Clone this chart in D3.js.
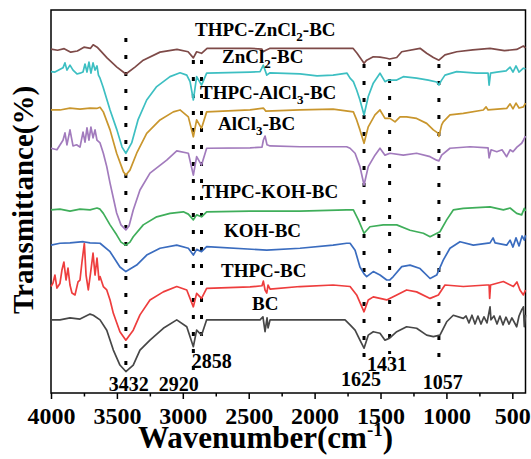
<!DOCTYPE html>
<html>
<head>
<meta charset="utf-8">
<script src="https://cdn.jsdelivr.net/npm/d3@7"></script>
<style>
  body { margin: 0; background: #fff; }
  svg { display: block; font-family: "Liberation Serif", "Times New Roman", serif; font-weight: bold; }
</style>
</head>
<body>
<div id="chart"><svg width="531" height="459"></svg></div>
<script>
// FTIR spectra, [wavenumber (cm-1), transmittance (a.u., stacked)]
const thpcZncl2Bc = [[4000,89.8],[3950,89.5],[3900,89.9],[3850,89.0],[3800,89.3],[3750,90.3],[3700,90.0],[3680,90.9],[3650,90.3],[3620,89.2],[3575,87.5],[3500,85.1],[3432,83.3],[3363,85.1],[3300,86.9],[3173,89.0],[3044,89.7],[2960,89.1],[2920,87.5],[2895,89.1],[2858,88.7],[2816,90.0],[2490,90.0],[2400,89.8],[2391,89.1],[2370,89.5],[2338,90.0],[2111,90.0],[1754,90.0],[1709,90.0],[1678,88.7],[1625,86.1],[1605,86.9],[1555,87.8],[1504,87.7],[1453,87.4],[1431,87.2],[1377,87.6],[1339,89.1],[1200,90.0],[1150,88.7],[1099,87.6],[1057,86.9],[1011,88.3],[922,89.1],[800,89.6],[669,90.0],[560,89.4],[467,89.7],[416,90.6],[400,90.1]];

const zncl2Bc = [[4000,83.9],[3970,83.8],[3909,84.9],[3894,86.2],[3879,84.3],[3856,85.6],[3833,84.3],[3803,83.3],[3780,83.5],[3757,83.8],[3742,85.9],[3727,83.8],[3712,86.4],[3697,83.5],[3681,86.2],[3666,84.3],[3651,85.4],[3640,83.0],[3628,82.2],[3605,79.9],[3552,73.9],[3500,68.7],[3461,64.2],[3432,62.6],[3388,65.3],[3340,71.3],[3274,76.5],[3198,80.0],[3097,82.6],[3021,83.6],[2970,83.0],[2945,81.3],[2920,76.5],[2895,82.6],[2858,80.4],[2819,83.5],[2490,83.8],[2414,83.9],[2389,85.6],[2363,83.0],[2338,83.6],[2111,83.3],[1982,82.8],[1860,83.0],[1754,83.5],[1731,82.2],[1706,81.3],[1681,79.1],[1656,76.5],[1625,72.6],[1593,77.4],[1555,80.9],[1504,83.5],[1466,81.3],[1441,81.7],[1377,81.7],[1327,82.6],[1226,82.2],[1137,81.7],[1074,81.2],[1057,80.4],[1040,81.5],[1011,83.0],[922,83.9],[770,83.5],[684,83.5],[676,80.4],[665,83.5],[618,83.8],[547,84.1],[517,85.1],[495,83.8],[472,85.4],[449,83.8],[416,84.8],[400,84.6]];

const thpcAlcl3Bc = [[4000,73.9],[3932,73.9],[3856,74.4],[3780,74.1],[3704,74.4],[3653,74.3],[3628,74.6],[3603,73.4],[3552,68.7],[3502,62.6],[3451,57.8],[3432,56.9],[3401,58.2],[3350,62.6],[3274,67.8],[3173,71.3],[3072,73.4],[3021,73.9],[2958,72.1],[2920,66.9],[2895,71.3],[2858,69.1],[2819,73.4],[2490,73.9],[2389,74.4],[2370,73.6],[2111,73.9],[1860,74.1],[1706,73.4],[1681,71.3],[1656,68.7],[1625,65.2],[1593,69.5],[1542,72.6],[1504,73.9],[1466,71.7],[1428,71.7],[1390,70.8],[1352,72.1],[1302,72.1],[1226,71.7],[1150,70.4],[1099,68.7],[1061,67.8],[1057,67.0],[1036,70.0],[1024,70.8],[973,72.6],[872,73.0],[720,73.9],[699,74.7],[684,73.9],[543,74.3],[517,75.5],[495,74.2],[472,75.7],[449,74.4],[416,74.7],[400,75.7]];

const alcl3Bc = [[4000,63.9],[3955,63.5],[3909,66.0],[3894,67.9],[3879,64.8],[3856,68.7],[3833,64.5],[3806,64.8],[3780,64.2],[3757,68.1],[3742,65.5],[3727,69.2],[3712,66.0],[3697,69.4],[3681,66.6],[3666,68.7],[3651,66.0],[3628,65.3],[3603,62.6],[3577,59.1],[3552,54.8],[3502,47.0],[3469,43.9],[3432,42.6],[3408,43.6],[3376,47.8],[3325,53.0],[3249,57.4],[3122,60.8],[3046,63.2],[2958,62.6],[2920,56.9],[2895,61.7],[2858,59.5],[2819,63.9],[2490,64.0],[2399,64.2],[2389,66.0],[2376,67.1],[2361,64.8],[2338,64.5],[2111,64.3],[1757,64.3],[1731,63.9],[1693,62.6],[1656,59.1],[1625,54.3],[1593,59.1],[1542,62.1],[1504,63.9],[1466,62.1],[1428,62.6],[1327,62.1],[1226,62.6],[1124,61.7],[1074,60.8],[1057,60.6],[1036,62.1],[973,63.9],[821,64.3],[684,64.0],[676,61.4],[661,63.5],[618,63.0],[578,63.5],[543,61.7],[517,63.5],[495,63.0],[465,64.2],[429,65.2],[416,66.0],[400,67.1]];

const thpcKohBc = [[4000,47.8],[3932,48.0],[3856,47.5],[3780,48.0],[3704,47.8],[3651,48.3],[3628,48.0],[3603,46.9],[3552,43.9],[3502,41.3],[3469,39.4],[3432,38.6],[3401,39.4],[3376,40.8],[3300,43.9],[3198,46.0],[3097,46.9],[2996,47.3],[2958,46.7],[2920,45.2],[2895,46.5],[2858,46.0],[2819,47.3],[2490,47.5],[2111,47.5],[1757,47.8],[1706,47.8],[1668,45.2],[1625,41.7],[1580,43.4],[1479,43.9],[1377,43.9],[1276,42.5],[1175,41.7],[1124,40.8],[1049,42.1],[998,45.2],[948,47.8],[872,48.2],[669,48.6],[568,47.8],[517,48.3],[467,46.9],[429,46.5],[409,48.2],[400,47.5]];

const kohBc = [[4000,38.6],[3932,39.1],[3856,39.2],[3755,39.5],[3704,39.2],[3628,39.1],[3552,36.9],[3477,32.9],[3432,31.7],[3350,33.4],[3274,36.0],[3173,37.8],[3046,38.6],[2958,37.8],[2920,36.0],[2895,37.5],[2858,36.9],[2819,38.2],[2363,37.3],[2111,37.8],[1860,38.6],[1757,39.1],[1731,39.1],[1693,37.3],[1656,32.9],[1625,31.1],[1605,30.4],[1555,31.7],[1504,30.8],[1453,29.5],[1431,29.5],[1403,30.4],[1339,33.0],[1276,33.4],[1200,32.5],[1124,29.9],[1074,30.8],[1024,34.7],[973,37.8],[897,39.5],[796,38.6],[669,39.2],[646,40.5],[631,39.2],[543,38.6],[517,39.9],[495,38.1],[472,40.5],[449,38.4],[426,41.0],[409,39.9],[400,41.2]];

const thpcBc = [[4000,27.8],[3985,28.7],[3970,30.8],[3955,27.4],[3932,28.6],[3917,32.1],[3902,34.2],[3886,29.5],[3871,32.6],[3856,28.2],[3841,26.1],[3818,25.6],[3795,29.0],[3780,29.5],[3765,34.2],[3747,39.1],[3734,30.8],[3717,26.9],[3697,32.1],[3681,36.5],[3666,30.8],[3651,35.2],[3636,29.5],[3628,30.4],[3603,27.8],[3577,26.9],[3552,24.3],[3527,20.8],[3477,16.0],[3432,13.8],[3376,16.4],[3325,20.4],[3249,24.3],[3148,26.4],[3046,27.8],[2970,26.9],[2920,22.5],[2895,26.0],[2858,24.7],[2819,27.3],[2490,27.7],[2399,28.0],[2389,29.2],[2376,26.9],[2363,26.1],[2353,28.2],[2338,27.1],[2111,27.8],[1860,28.2],[1731,27.8],[1681,25.6],[1625,21.2],[1593,24.3],[1555,25.1],[1504,24.7],[1453,24.3],[1377,25.6],[1302,26.9],[1226,26.4],[1124,24.7],[1061,25.6],[1011,28.2],[872,27.8],[694,28.2],[676,28.2],[672,24.7],[665,28.2],[568,29.1],[492,27.8],[465,29.0],[442,26.9],[416,25.6],[400,26.9]];

const bc = [[4000,19.1],[3932,19.1],[3856,19.6],[3780,19.3],[3704,20.6],[3679,20.3],[3628,19.1],[3577,16.4],[3527,11.2],[3477,7.3],[3432,5.6],[3376,7.3],[3325,11.2],[3249,13.8],[3148,16.9],[3046,19.1],[2970,17.3],[2920,12.1],[2895,16.4],[2858,15.1],[2819,19.1],[2490,19.1],[2414,19.1],[2392,19.9],[2376,16.0],[2361,19.6],[2353,17.0],[2338,19.1],[1860,19.1],[1769,19.1],[1731,17.8],[1693,16.4],[1656,13.8],[1625,11.7],[1593,15.1],[1555,16.0],[1504,15.6],[1466,13.8],[1431,14.3],[1377,16.0],[1302,17.3],[1226,16.9],[1150,15.1],[1099,14.7],[1049,15.1],[998,18.6],[948,20.3],[872,19.5],[851,20.1],[829,18.3],[806,20.3],[783,18.0],[761,20.1],[738,18.0],[715,19.9],[692,18.3],[669,22.5],[662,19.1],[639,20.1],[616,18.0],[594,20.1],[571,17.8],[548,19.8],[525,18.0],[503,19.6],[467,17.3],[449,20.1],[429,21.7],[416,22.5],[409,17.3],[400,20.4]];

const sampleNames = ["THPC-ZnCl2-BC", "ZnCl2-BC", "THPC-AlCl3-BC", "AlCl3-BC", "THPC-KOH-BC", "KOH-BC", "THPC-BC", "BC"];
const sampleData = [thpcZncl2Bc, zncl2Bc, thpcAlcl3Bc, alcl3Bc, thpcKohBc, kohBc, thpcBc, bc];
const peaks = [3432, 2920, 2858, 1625, 1431, 1057];
const majorTicks = [4000, 3500, 3000, 2500, 2000, 1500, 1000, 500];
const minorTicks = [3750, 3250, 2750, 2250, 1750, 1250, 750];

const colors = ["#7e4a48", "#3dbfc2", "#c9962d", "#a27bbd", "#3fae5a", "#3a6cbf", "#ee3d3d", "#474747"];
// label left x / baseline
const labelPos = [[195, 40.5], [222, 68], [200, 104], [218, 135], [202, 203], [224, 241.5], [221, 281.5], [252, 315]];
// dotted line extents and label spot
const peakLayout = [
  { top: 38, bottom: 369, lx: 128.7, ly: 391 },
  { top: 60, bottom: 372, lx: 178.8, ly: 391 },
  { top: 60, bottom: 349, lx: 211.7, ly: 368 },
  { top: 64, bottom: 369, lx: 361, ly: 386 },
  { top: 62, bottom: 354, lx: 387, ly: 371 },
  { top: 64, bottom: 370, lx: 442.8, ly: 389 },
];

const svg = d3.select("#chart svg");
const plotLeft = 51, plotRight = 525.5, plotTop = 10, plotBottom = 393;

const x = d3.scaleLinear().domain([4000, 400]).range([plotLeft, plotRight]);
const y = d3.scaleLinear().domain([0, 100]).range([plotBottom, plotTop]);

// axes
const major = svg.append("g")
  .attr("transform", `translate(0, ${plotBottom})`)
  .call(d3.axisBottom(x).tickValues(majorTicks).tickSize(6).tickPadding(8).tickFormat(d3.format("d")));
major.select(".domain").remove();
major.selectAll("line").attr("stroke", "#000").attr("stroke-width", 1.5);
major.selectAll("text")
  .attr("font-family", "Liberation Serif, serif")
  .attr("font-weight", "bold")
  .attr("font-size", 24)
  .attr("fill", "#000");

const minor = svg.append("g")
  .attr("transform", `translate(0, ${plotBottom})`)
  .call(d3.axisBottom(x).tickValues(minorTicks).tickSize(3.5).tickFormat(""));
minor.select(".domain").remove();
minor.selectAll("line").attr("stroke", "#000").attr("stroke-width", 1.5);

svg.append("rect")
  .attr("x", plotLeft)
  .attr("y", plotTop)
  .attr("width", plotRight - plotLeft)
  .attr("height", plotBottom - plotTop)
  .attr("fill", "none")
  .attr("stroke", "#000")
  .attr("stroke-width", 1.5);

// peak guides
const peakGroups = svg.selectAll(".peak").data(peaks).enter().append("g").attr("class", "peak");

peakGroups
  .append("line")
  .attr("x1", (p) => x(p))
  .attr("x2", (p) => x(p))
  .attr("y1", (p, i) => peakLayout[i].top)
  .attr("y2", (p, i) => peakLayout[i].bottom)
  .attr("stroke", "#000")
  .attr("stroke-width", 3)
  .attr("stroke-dasharray", "4,13");

peakGroups
  .append("text")
  .attr("x", (p, i) => peakLayout[i].lx)
  .attr("y", (p, i) => peakLayout[i].ly)
  .attr("text-anchor", "middle")
  .attr("font-size", 20)
  .text((p) => p);

// spectra
const line = d3.line()
  .x((d) => x(d[0]))
  .y((d) => y(d[1]));

svg.append("g")
  .selectAll("path")
  .data(sampleData.slice().reverse())
  .enter()
  .append("path")
  .attr("d", line)
  .attr("fill", "none")
  .attr("stroke", (d, i) => colors[colors.length - 1 - i])
  .attr("stroke-width", 1.7)
  .attr("stroke-linejoin", "round");

// sample labels with subscripts
sampleNames.forEach((name, i) => {
  const t = svg.append("text")
    .attr("x", labelPos[i][0])
    .attr("y", labelPos[i][1])
    .attr("font-size", 19);
  name.split(/(\d)/).filter((s) => s).forEach((part) => {
    if (/\d/.test(part)) {
      t.append("tspan").attr("font-size", 13).attr("dy", 5).text(part);
    } else {
      t.append("tspan").attr("dy", t.node().childNodes.length ? -5 : 0).text(part);
    }
  });
});

// axis titles
const xTitle = svg.append("text")
  .attr("x", 265.5)
  .attr("y", 448)
  .attr("text-anchor", "middle")
  .attr("font-size", 31);
xTitle.append("tspan").text("Wavenumber(cm");
xTitle.append("tspan").attr("font-size", 19).attr("dy", -12).text("-1");
xTitle.append("tspan").attr("dy", 12).text(")");

svg.append("text")
  .attr("transform", "rotate(-90)")
  .attr("x", -200)
  .attr("y", 33)
  .attr("text-anchor", "middle")
  .attr("font-size", 29)
  .text("Transmittance(%)");
</script>
</body>
</html>
